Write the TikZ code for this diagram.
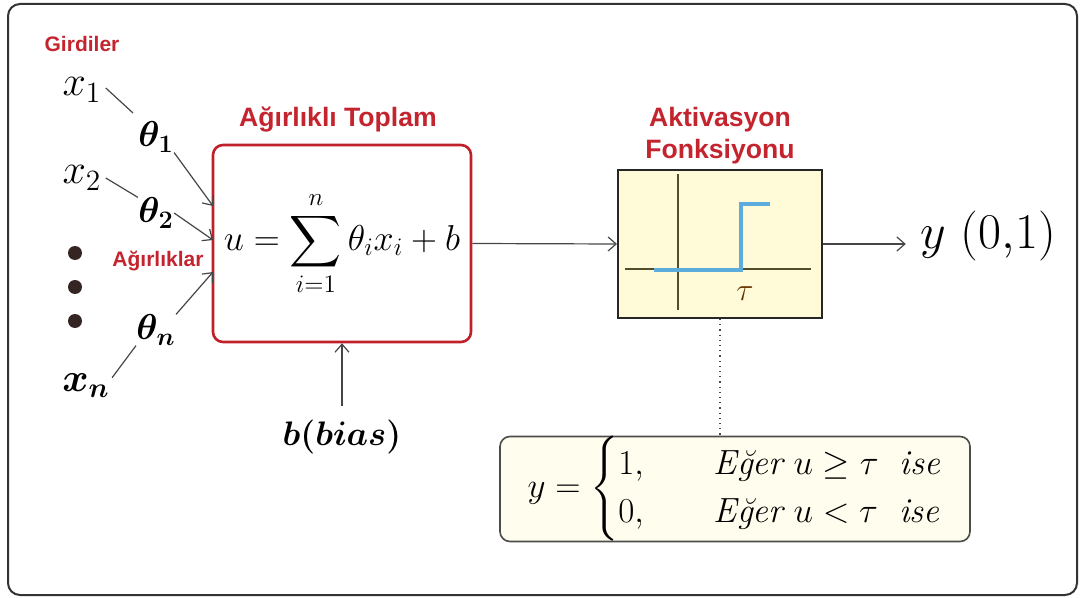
\documentclass[tikz,border=0pt]{standalone}
\usepackage{fix-cm}
\usepackage{amsmath, amssymb}
\usepackage{fontspec}
\setsansfont{Liberation Sans}
\usepackage{xcolor}
\usepackage{tikz}
\usetikzlibrary{arrows.meta, positioning}

\definecolor{labred}{RGB}{196,36,46}
\definecolor{boxred}{RGB}{192,32,42}
\definecolor{actfill}{RGB}{255,250,215}
\definecolor{condfill}{RGB}{255,253,238}
\definecolor{stepblue}{RGB}{92,172,222}
\definecolor{linkgray}{RGB}{70,70,70}
\definecolor{dotbrown}{RGB}{52,36,34}

\begin{document}
\begin{tikzpicture}[x=0.5pt, y=-0.5pt,
  inp/.style={font=\fontsize{21}{24}\selectfont, inner sep=0pt},
  wt/.style={font=\fontsize{18}{20}\selectfont\boldmath, inner sep=0pt},
  redlab/.style={text=labred, font=\sffamily\bfseries\fontsize{13.3}{15}\selectfont, align=center, inner sep=0pt},
  smalllab/.style={text=labred, font=\sffamily\bfseries\fontsize{10.5}{12}\selectfont, inner sep=0pt},
  link/.style={draw=linkgray, line width=0.6pt},
  arr/.style={link, -{Straight Barb[length=4pt,width=7pt]}},
  bigdot/.style={circle, fill=dotbrown, inner sep=0pt, minimum size=7pt}]
  \useasboundingbox (0,0) rectangle (1080,598);
  \draw[line width=1pt, draw=black!80, rounded corners=6pt] (8,4) rectangle (1077,595);

  % inputs and weights
  \node[smalllab] (girdiler) at (82,44) {Girdiler};
  \node[inp] (x1) at (82,90) {$x_1$};
  \node[inp] (x2) at (82,178) {$x_2$};
  \node[inp, font=\fontsize{20}{24}\selectfont] (xn) at (86,386) {$\boldsymbol{x_n}$};
  \node[wt] (t1) at (156,137) {$\theta_1$};
  \node[wt] (t2) at (156,213) {$\theta_2$};
  \node[wt] (tn) at (156,330) {$\theta_n$};
  \node[smalllab] (agirlik) at (158,261) {Ağırlıklar};
  \foreach \y/\nm in {253/d1, 287/d2, 321/d3}
    \node[bigdot] (\nm) at (75,\y) {};

  % weighted sum
  \node[draw=boxred, line width=1.3pt, rounded corners=5pt, fill=white,
        minimum width=129pt, minimum height=98.5pt, inner sep=0pt,
        font=\fontsize{18}{20}\selectfont] (sum) at (342,243.5)
        {$\displaystyle u=\sum_{i=1}^{n}\theta_i x_i+b$};
  \node[redlab] (sumtitle) at (338,120) {Ağırlıklı Toplam};
  \coordinate (in1) at (213,206);
  \coordinate (in2) at (213,240);
  \coordinate (in3) at (213,272);

  \draw[link] (x1.east) ++(4,-2) -- (133,113);
  \draw[link] ([xshift=2pt]x2.east) -- (t2.north west);
  \draw[link] (xn.north east) ++(2,4) -- (tn.south west);
  \draw[arr] (t1.south east) -- (in1);
  \draw[arr] (t2.east) -- (in2);
  \draw[arr] (tn.north east) -- (in3);

  % activation
  \node[draw=black!85, line width=1pt, fill=actfill, minimum width=102pt,
        minimum height=74pt, inner sep=0pt] (act) at (720,244) {};
  \node[redlab] (acttitle) at (720,136) {Aktivasyon\\[1pt]Fonksiyonu};
  \draw[draw=black!55!olive, line width=0.6pt] (678,174) -- (678,310);
  \draw[draw=black!55!olive, line width=0.6pt] (625,269) -- (811,269);
  \draw[stepblue, line width=2.4pt] (654,270) -- (741,270) -- (741,204) -- (770,204);
  \node[font=\fontsize{16}{18}\selectfont, text=black!60!orange, inner sep=0pt] (tau) at (745,294) {$\tau$};

  % output and bias
  \node[font=\fontsize{25}{28}\selectfont, inner sep=0pt] (out) at (988,236) {$y\ (0{,}1)$};
  \node[font=\fontsize{17}{20}\selectfont\boldmath, inner sep=0pt] (bias) at (342,437) {$b(bias)$};
  \draw[arr] (sum.east) -- (act.west);
  \draw[arr] (act.east) -- ([xshift=-7pt]act.east -| out.west);
  \draw[arr] (bias.north) ++(0,-14) -- (sum.south);

  % threshold rule
  \node[draw=black!70, line width=0.8pt, fill=condfill, rounded corners=5pt,
        minimum width=235pt, minimum height=51pt, inner sep=0pt,
        font=\fontsize{17.5}{20}\selectfont] (cond) at (735,489)
        {$y=\begin{cases}1, & \quad\text{\itshape Eğer}\ u\geq\tau\ \ \mathit{ise}\\
                         0, & \quad\text{\itshape Eğer}\ u<\tau\ \ \mathit{ise}\end{cases}$};
  \draw[link, dotted, line width=0.8pt] (act.south) -- (act.south |- cond.north);
\end{tikzpicture}
\end{document}
